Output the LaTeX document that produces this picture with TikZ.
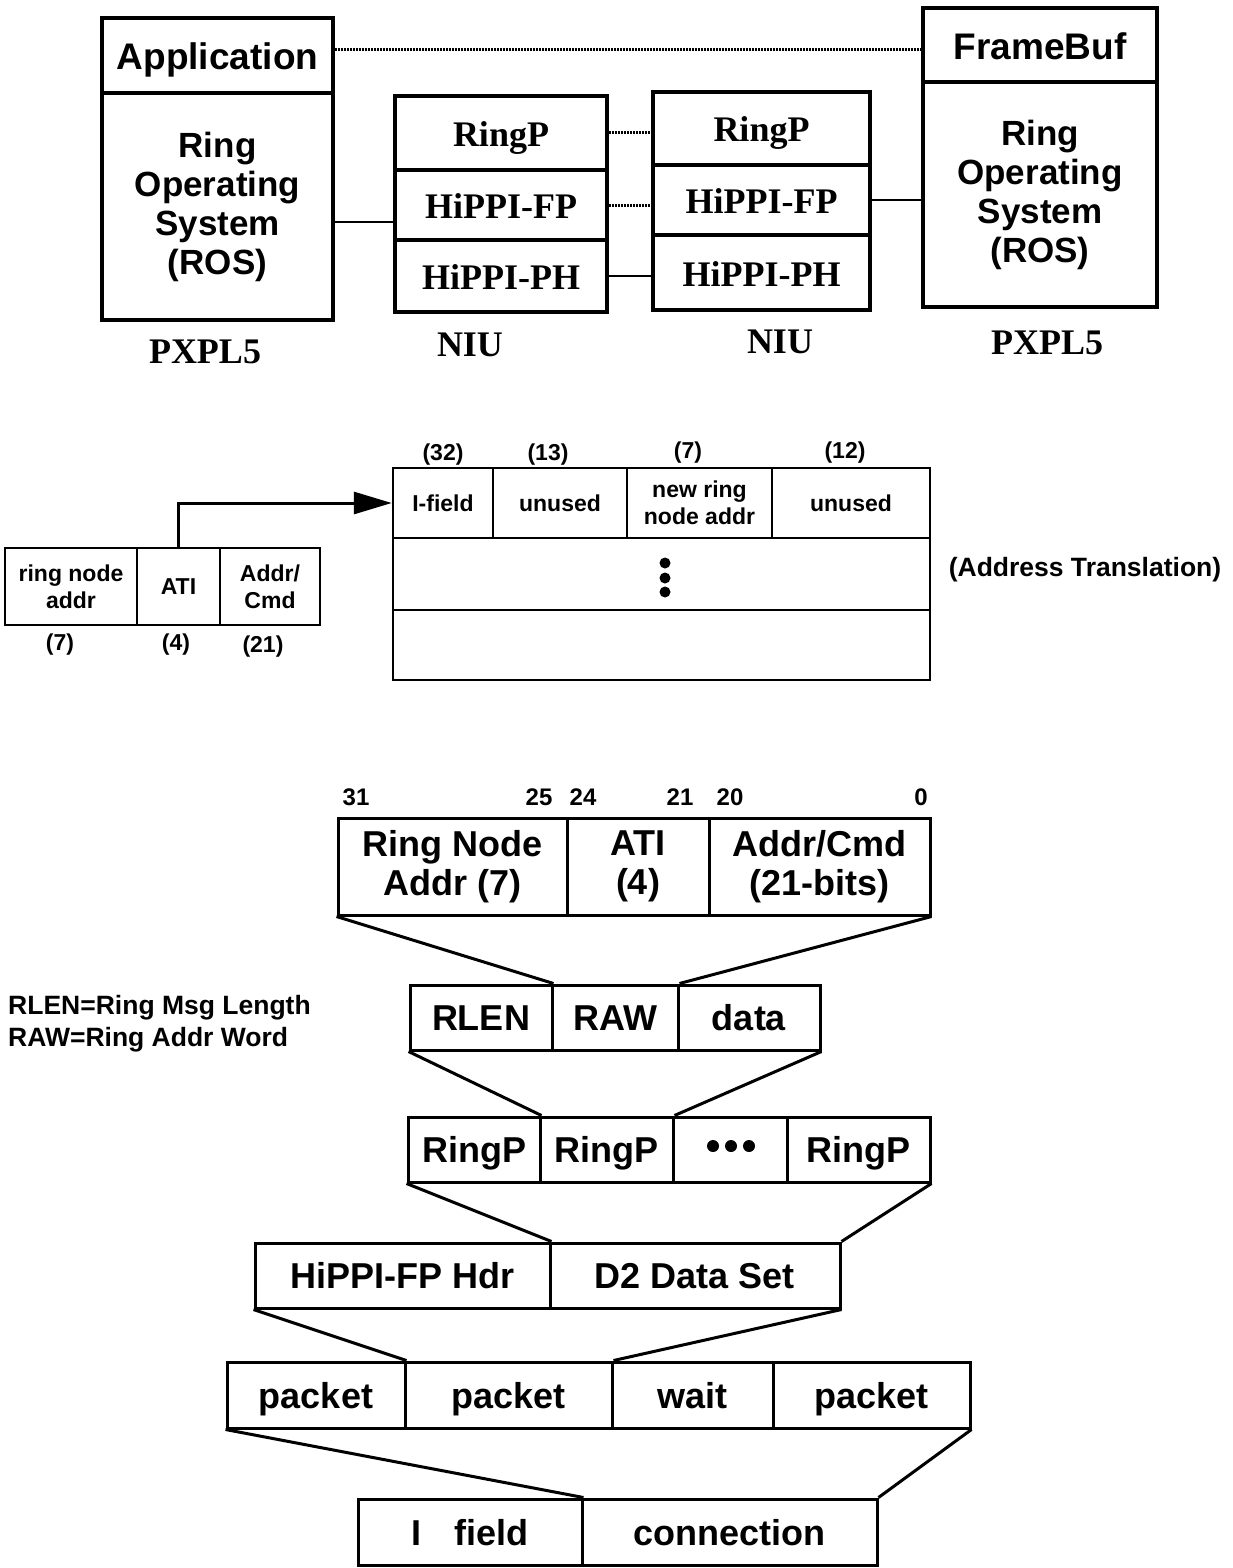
\documentclass[tikz,border=0pt]{standalone}
\usepackage{fontspec}
\newfontfamily\hv{Liberation Sans}
\newfontfamily\tm{Liberation Serif}
\usetikzlibrary{arrows.meta}
\newcommand{\mycell}[7]{\node[#6, minimum width={#4-#2}, minimum height={#5-#3}] (#1) at ({(#2+#4)/2},{(#3+#5)/2}) {#7};}
\begin{document}
\begin{tikzpicture}[x=1pt,y=-1pt,
  topbox/.style={draw, line width=4pt, inner sep=0pt, align=center, font=\hv\bfseries\fontsize{35}{39}\selectfont},
  tophead/.style={topbox, font=\hv\bfseries\fontsize{37}{40}\selectfont, text height=31pt, text depth=2pt},
  tmbox/.style={draw, line width=4pt, inner sep=0pt, align=center, font=\tm\bfseries\fontsize{36}{40}\selectfont, text height=30pt, text depth=3pt},
  tmlabel/.style={inner sep=0pt, font=\tm\bfseries\fontsize{36}{40}\selectfont},
  midcell/.style={draw, line width=2.5pt, inner sep=0pt, align=center, font=\hv\bfseries\fontsize{23}{27}\selectfont},
  midlabel/.style={inner sep=0pt, font=\hv\bfseries\fontsize{23}{26}\selectfont},
  botcell/.style={draw, line width=3pt, inner sep=0pt, align=center, font=\hv\bfseries\fontsize{36}{39}\selectfont},
  botone/.style={botcell, text height=30pt, text depth=4pt},
  botlabel/.style={inner sep=0pt, font=\hv\bfseries\fontsize{24}{26}\selectfont},
  notelabel/.style={inner sep=0pt, anchor=west, font=\hv\bfseries\fontsize{26.5}{29}\selectfont},
  dotline/.style={line width=3pt, dash pattern=on 1.5pt off 1.5pt},
  link/.style={line width=2.5pt},
  fan/.style={line width=3pt}]
\fill[white] (0,0) rectangle (1233,1568);
\useasboundingbox (0,0) rectangle (1233,1568);

% ---------------- top section ----------------
\mycell{app}{102}{18}{333}{93}{tophead}{Application}
\mycell{rosl}{102}{93}{333}{320}{topbox}{Ring\\Operating\\System\\(ROS)}
\mycell{rpa}{395}{96}{607}{170}{tmbox}{RingP}
\mycell{fpa}{395}{170}{607}{240}{tmbox}{HiPPI-FP}
\mycell{pha}{395}{240}{607}{312}{tmbox}{HiPPI-PH}
\mycell{rpb}{653}{92}{870}{165}{tmbox}{RingP}
\mycell{fpb}{653}{165}{870}{235}{tmbox}{HiPPI-FP}
\mycell{phb}{653}{235}{870}{310}{tmbox}{HiPPI-PH}
\mycell{fb}{923}{8}{1157}{82}{tophead}{FrameBuf}
\mycell{rosr}{923}{82}{1157}{307}{topbox}{Ring\\Operating\\System\\(ROS)}

\node[tmlabel] (pxl) at (205,352) {PXPL5};
\node[tmlabel] (niua) at (470,345) {NIU};
\node[tmlabel] (niub) at (780,342) {NIU};
\node[tmlabel] (pxr) at (1047,343) {PXPL5};

\coordinate (dl) at (app.east |- 0,50);
\coordinate (dr) at (fb.west |- 0,50);
\draw[dotline] (dl) -- (dr);
\draw[dotline] (rpa.east) -- (rpb.west |- rpa.east);
\draw[dotline] (fpa.east) -- (fpb.west |- fpa.east);
\coordinate (sl) at (rosl.east |- 0,222);
\coordinate (sr) at (fpa.west |- 0,222);
\draw[link] (sl) -- (sr);
\draw[link] (pha.east) -- (phb.west |- pha.east);
\draw[link] (fpb.east) -- (rosr.west |- fpb.east);

% ---------------- middle section ----------------
\mycell{rna}{5}{548}{137}{625}{midcell}{ring node\\addr}
\mycell{ati}{137}{548}{220}{625}{midcell}{ATI}
\mycell{acmd}{220}{548}{320}{625}{midcell}{Addr/\\Cmd}
\node[midlabel] (l7) at (60,645) {(7)};
\node[midlabel] (l4) at (176,645) {(4)};
\node[midlabel] (l21) at (263,647) {(21)};

\mycell{ifl}{393}{468}{493}{538}{midcell}{I-field}
\mycell{un1}{493}{468}{627}{538}{midcell}{unused}
\mycell{nra}{627}{468}{772}{538}{midcell}{new ring\\node addr}
\mycell{un2}{772}{468}{930}{538}{midcell}{unused}
\mycell{row2}{393}{538}{930}{610}{midcell}{}
\mycell{row3}{393}{610}{930}{680}{midcell}{}
\node[midlabel] (h32) at (443,455) {(32)};
\node[midlabel] (h13) at (548,455) {(13)};
\node[midlabel] (h7) at (688,453) {(7)};
\node[midlabel] (h12) at (845,453) {(12)};
\fill (665,563) circle (5.5);
\fill (665,578) circle (5.5);
\fill (665,592) circle (5.5);
\node[midlabel, font=\hv\bfseries\fontsize{26.5}{30}\selectfont] (atr) at (1085,570) {(Address Translation)};

\draw[line width=3pt, -{Triangle[length=38pt,width=22pt]}] (ati.north) |- (ifl.west);

% ---------------- bottom section ----------------
\node[botlabel] (b31) at (356,797) {31};
\node[botlabel] (b25) at (539,797) {25};
\node[botlabel] (b24) at (583,797) {24};
\node[botlabel] (b21) at (680,797) {21};
\node[botlabel] (b20) at (730,797) {20};
\node[botlabel] (b0) at (921,797) {0};

\mycell{rnaddr}{338}{818}{567}{915}{botcell}{Ring Node\\Addr (7)}
\mycell{atib}{567}{818}{709}{915}{botcell}{ATI\\(4)}
\mycell{acb}{709}{818}{930}{915}{botcell}{Addr/Cmd\\(21-bits)}

\mycell{rlen}{410}{985}{552}{1050}{botone}{RLEN}
\mycell{raw}{552}{985}{678}{1050}{botone}{RAW}
\mycell{dat}{678}{985}{820}{1050}{botone}{data}

\mycell{rpx}{408}{1117}{540}{1182}{botone}{RingP}
\mycell{rpy}{540}{1117}{673}{1182}{botone}{RingP}
\mycell{rdots}{673}{1117}{787}{1182}{botcell}{}
\mycell{rpz}{787}{1117}{930}{1182}{botone}{RingP}
\fill (713,1146) circle (6);
\fill (731,1146) circle (6);
\fill (749,1146) circle (6);

\mycell{hdr}{255}{1243}{550}{1308}{botone}{HiPPI-FP Hdr}
\mycell{dset}{550}{1243}{840}{1308}{botone}{D2 Data Set}

\mycell{pka}{227}{1362}{405}{1428}{botone}{packet}
\mycell{pkb}{405}{1362}{612}{1428}{botone}{packet}
\mycell{wt}{612}{1362}{773}{1428}{botone}{wait}
\mycell{pkc}{773}{1362}{970}{1428}{botone}{packet}

\mycell{ifb}{358}{1499}{582}{1565}{botone}{I\hspace{0.9em}field}
\mycell{conn}{582}{1499}{877}{1565}{botone}{connection}

\draw[fan] (rnaddr.south west) -- (rlen.north east);
\draw[fan] (acb.south east) -- (raw.north east);
\draw[fan] (rlen.south west) -- (rpx.north east);
\draw[fan] (dat.south east) -- (rpy.north east);
\draw[fan] (rpx.south west) -- (hdr.north east);
\draw[fan] (rpz.south east) -- (dset.north east);
\draw[fan] (hdr.south west) -- (pka.north east);
\draw[fan] (dset.south east) -- (pkb.north east);
\draw[fan] (pka.south west) -- (ifb.north east);
\draw[fan] (pkc.south east) -- (conn.north east);

\node[notelabel] (n1) at (8,1008) {RLEN=Ring Msg Length};
\node[notelabel] (n2) at (8,1040) {RAW=Ring Addr Word};
\end{tikzpicture}
\end{document}
